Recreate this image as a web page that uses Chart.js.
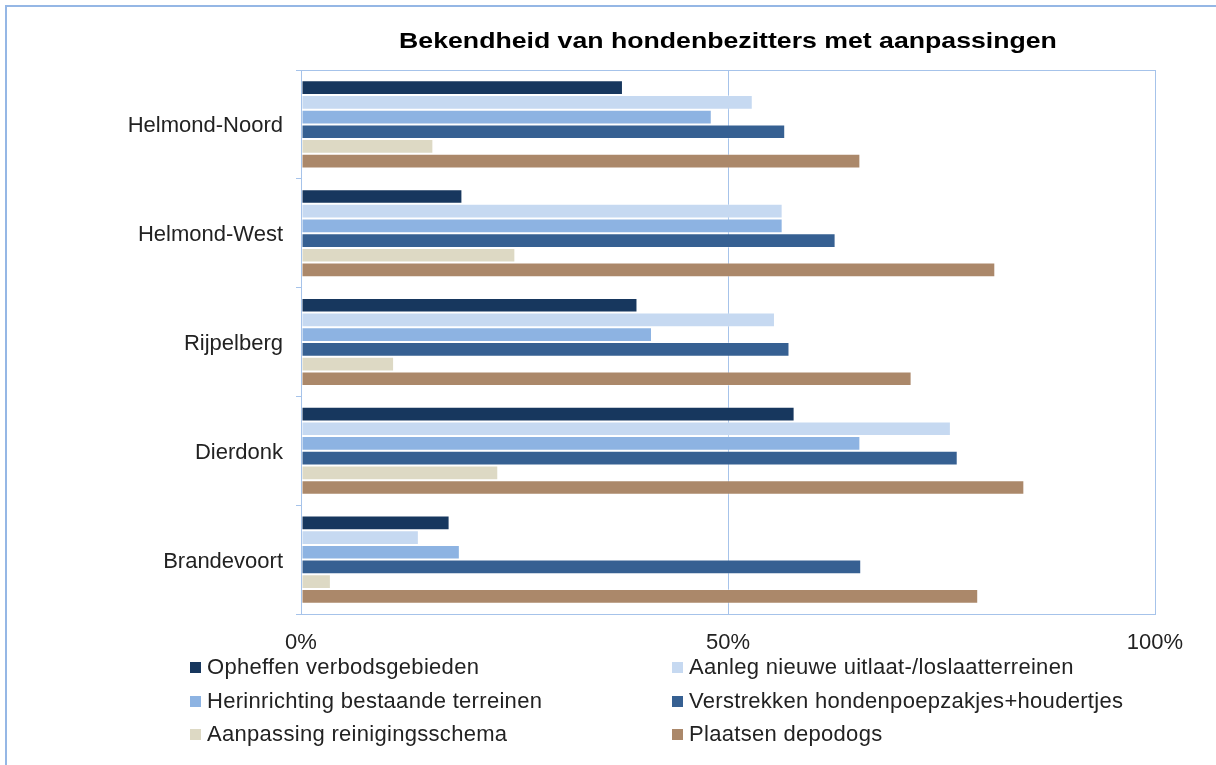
<!DOCTYPE html>
<html>
<head>
<meta charset="utf-8">
<script src="https://cdn.jsdelivr.net/npm/chart.js@4/dist/chart.umd.min.js"></script>
<style>
    body { margin: 0; background: #fff; font-family: "Liberation Sans", Arial, sans-serif; }
    #wrap { position: relative; width: 1216px; height: 765px; overflow: hidden; }
    #frame { position: absolute; left: 5px; top: 5px; width: 1230px; height: 780px; border: 2px solid #95b7e5; }
    #title { position: absolute; left: 301px; width: 854px; top: 29px; text-align: center; font-weight: bold; font-size: 21.5px; color: #000; transform: scaleX(1.24); transform-origin: 50% 50%; }
    #chart { position: absolute; left: 0; top: 0; }
    .item { position: absolute; font-size: 22px; letter-spacing: 0.3px; color: #222; line-height: 24px; white-space: nowrap; }
    .box { position: absolute; width: 11px; height: 11px; }
</style>
</head>
<body>
<div id="wrap">
    <div id="frame"></div>
    <canvas id="chart" width="1216" height="765"></canvas>
    <div id="title"></div>
    <div id="legend"></div>
</div>
<script>
const chartTitle = 'Bekendheid van hondenbezitters met aanpassingen';
const wijken = ['Helmond-Noord', 'Helmond-West', 'Rijpelberg', 'Dierdonk', 'Brandevoort'];
const xTicks = [0, 50, 100];

const seriesNames = [
    'Opheffen verbodsgebieden',
    'Aanleg nieuwe uitlaat-/loslaatterreinen',
    'Herinrichting bestaande terreinen',
    'Verstrekken hondenpoepzakjes+houdertjes',
    'Aanpassing reinigingsschema',
    'Plaatsen depodogs'
];
const seriesColors = ['#17375E', '#C6D9F1', '#8DB3E2', '#366092', '#DDD9C4', '#AB886A'];

// percentages per wijk, same order as wijken
const opheffen      = [37.7, 18.9, 39.4, 57.8, 17.4];
const aanleg        = [52.9, 56.4, 55.5, 76.1, 13.8];
const herinrichting = [48.1, 56.4, 41.1, 65.5, 18.6];
const verstrekken   = [56.7, 62.6, 57.2, 76.9, 65.6];
const reiniging     = [15.5, 25.1, 10.9, 23.1, 3.5];
const depodogs      = [65.5, 81.3, 71.5, 84.7, 79.3];

const seriesValues = [opheffen, aanleg, herinrichting, verstrekken, reiniging, depodogs];

const gridBlue = '#a6c3ea';

document.getElementById('title').textContent = chartTitle;

const plotFrame = {
    id: 'plotFrame',
    afterDraw(chart) {
        const a = chart.chartArea;
        const ctx = chart.ctx;
        ctx.save();
        ctx.strokeStyle = gridBlue;
        ctx.lineWidth = 1;
        ctx.strokeRect(Math.round(a.left) + 0.5, Math.round(a.top) + 0.5, Math.round(a.right - a.left), Math.round(a.bottom - a.top));
        ctx.restore();
    }
};

const ctx = document.getElementById('chart').getContext('2d');

new Chart(ctx, {
    type: 'bar',
    data: {
        labels: wijken,
        datasets: seriesNames.map((name, i) => ({
            label: name,
            data: seriesValues[i],
            backgroundColor: seriesColors[i],
            borderColor: 'rgba(255,255,255,0.35)',
            borderWidth: 1,
            borderSkipped: false,
            categoryPercentage: 0.81,
            barPercentage: 1.0
        }))
    },
    options: {
        indexAxis: 'y',
        responsive: false,
        animation: false,
        devicePixelRatio: 1,
        layout: { padding: { top: 70, right: 61, bottom: 0, left: 0 } },
        plugins: {
            legend: { display: false },
            title: { display: false },
            tooltip: { enabled: false }
        },
        scales: {
            x: {
                min: 0,
                max: 100,
                afterBuildTicks: scale => { scale.ticks = xTicks.map(v => ({ value: v })); },
                afterFit: scale => { scale.height = 151; },
                ticks: {
                    padding: 16,
                    color: '#222',
                    font: { family: 'Liberation Sans', size: 22 },
                    callback: v => v + '%'
                },
                grid: { color: gridBlue, drawTicks: false },
                border: { color: gridBlue }
            },
            y: {
                afterFit: scale => { scale.width = 301; },
                ticks: {
                    padding: 13,
                    labelOffset: 2,
                    color: '#222',
                    font: { family: 'Liberation Sans', size: 22 }
                },
                grid: { offset: true, drawOnChartArea: false, tickLength: 5, color: gridBlue },
                border: { color: gridBlue }
            }
        }
    },
    plugins: [plotFrame]
});

// legend in two columns, filled row by row
const legend = document.getElementById('legend');
const colX = [190, 672];
const rowY = [667, 701, 734];
seriesNames.forEach((name, i) => {
    const x = colX[i % 2];
    const y = rowY[Math.floor(i / 2)];
    const box = document.createElement('div');
    box.className = 'box';
    box.style.left = x + 'px';
    box.style.top = (y - 5) + 'px';
    box.style.background = seriesColors[i];
    legend.appendChild(box);
    const item = document.createElement('div');
    item.className = 'item';
    item.style.left = (x + 17) + 'px';
    item.style.top = (y - 12) + 'px';
    item.textContent = name;
    legend.appendChild(item);
});
</script>
</body>
</html>
